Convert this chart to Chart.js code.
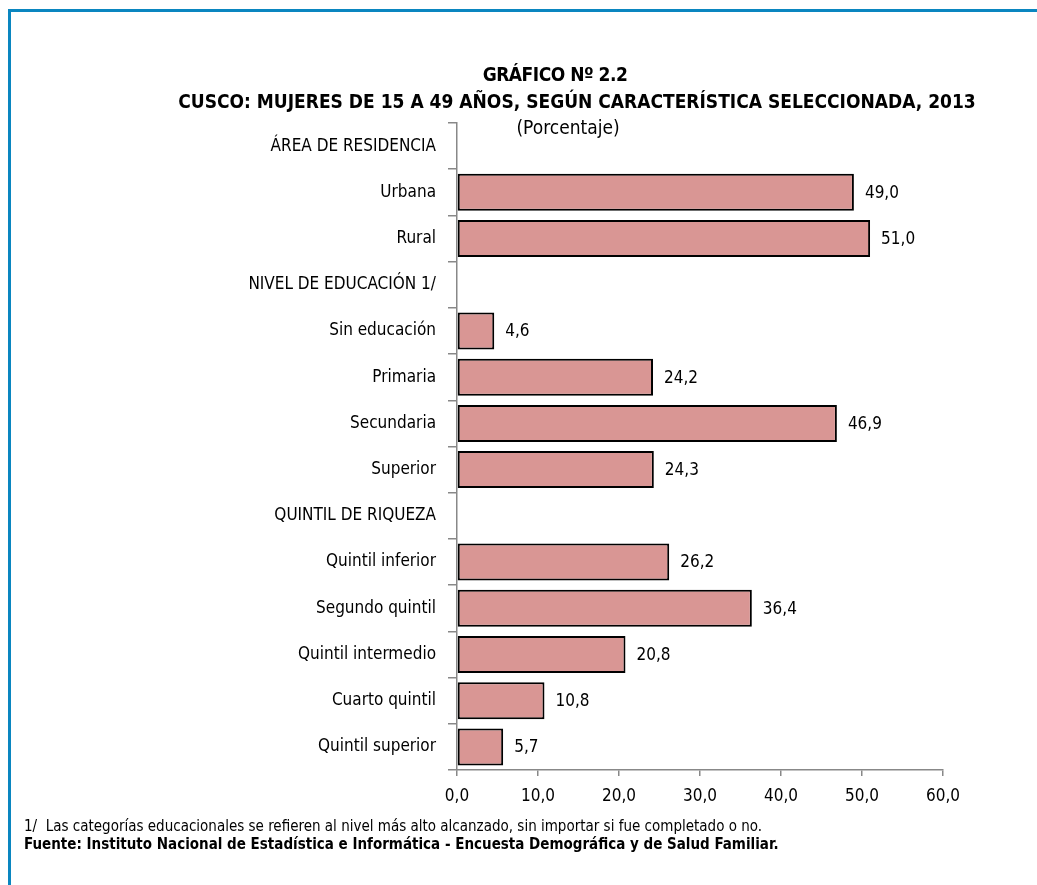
<!DOCTYPE html>
<html>
<head>
<meta charset="utf-8">
<script src="https://cdn.jsdelivr.net/npm/chart.js@4/dist/chart.umd.min.js"></script>
<style>
  html, body { margin: 0; padding: 0; background: #fff; }
  #page { position: relative; width: 1037px; height: 885px; overflow: hidden;
          font-family: 'Liberation Sans Narrow', 'Arial Narrow', 'DejaVu Sans Condensed', sans-serif; color: #000; }
  #frame { position: absolute; left: 8px; top: 9px; width: 1100px; height: 1000px;
           border-left: 3px solid #0a86c0; border-top: 3px solid #0a86c0; }
  #chart { position: absolute; left: 0; top: 0; }
  .t { position: absolute; white-space: nowrap; }
  #t1 { left: 0; width: 1110px; text-align: center; top: 63px; font-weight: bold; font-size: 19px; letter-spacing: -0.5px; }
  #t2 { left: 0; width: 1154px; text-align: center; top: 90px; font-weight: bold; font-size: 19px; }
  #t3 { left: 0; width: 1136px; text-align: center; top: 116px; font-size: 19px; }
  #n1 { left: 24px; top: 817px; font-size: 15px; }
  #n2 { left: 24px; top: 835px; font-size: 15px; font-weight: bold; }
</style>
</head>
<body>
<div id="page">
  <div id="frame"></div>
  <canvas id="chart" width="1037" height="885"></canvas>
  <div class="t" id="t1">GRÁFICO Nº 2.2</div>
  <div class="t" id="t2">CUSCO: MUJERES DE 15 A 49 AÑOS, SEGÚN CARACTERÍSTICA SELECCIONADA, 2013</div>
  <div class="t" id="t3">(Porcentaje)</div>
  <div class="t" id="n1">1/&nbsp; Las categorías educacionales se refieren al nivel más alto alcanzado, sin importar si fue completado o no.</div>
  <div class="t" id="n2">Fuente: Instituto Nacional de Estadística e Informática - Encuesta Demográfica y de Salud Familiar.</div>
</div>
<script>
'use strict';

// ── Data ──────────────────────────────────────────────────────
const categories = [
  'ÁREA DE RESIDENCIA', 'Urbana', 'Rural',
  'NIVEL DE EDUCACIÓN 1/', 'Sin educación', 'Primaria', 'Secundaria', 'Superior',
  'QUINTIL DE RIQUEZA', 'Quintil inferior', 'Segundo quintil', 'Quintil intermedio',
  'Cuarto quintil', 'Quintil superior'
];
const values = [null, 49.0, 51.0, null, 4.6, 24.2, 46.9, 24.3, null, 26.2, 36.4, 20.8, 10.8, 5.7];
const xTicks = [0, 10, 20, 30, 40, 50, 60];

const FONT = "'Liberation Sans Narrow', 'Arial Narrow', 'DejaVu Sans Condensed', sans-serif";
const fmt = v => v.toFixed(1).replace('.', ',');

// ── Value labels ──────────────────────────────────────────────
const valueLabels = {
  id: 'valueLabels',
  afterDatasetsDraw(chart) {
    const ctx = chart.ctx;
    const meta = chart.getDatasetMeta(0);
    ctx.save();
    ctx.font = '17px ' + FONT;
    ctx.fillStyle = '#000';
    ctx.textAlign = 'left';
    ctx.textBaseline = 'middle';
    meta.data.forEach((bar, i) => {
      if (values[i] == null) return;
      ctx.fillText(fmt(values[i]), bar.x + 11, bar.y + 1);
    });
    ctx.restore();
  }
};

new Chart(document.getElementById('chart'), {
  type: 'bar',
  data: {
    labels: categories,
    datasets: [{
      data: values,
      backgroundColor: '#d99694',
      borderColor: '#000',
      borderWidth: 2,
      borderSkipped: false,
      categoryPercentage: 0.8,
      barPercentage: 1.0
    }]
  },
  plugins: [valueLabels],
  options: {
    indexAxis: 'y',
    responsive: false,
    animation: false,
    layout: { padding: { left: 0, right: 94, top: 123, bottom: 75 } },
    plugins: { legend: { display: false }, tooltip: { enabled: false }, title: { display: false } },
    scales: {
      y: {
        type: 'category',
        afterFit: s => { s.width = 457; },
        border: { color: '#888', width: 1.5 },
        grid: { offset: true, drawOnChartArea: false, color: '#888', lineWidth: 1.5, tickLength: 9 },
        ticks: { color: '#000', font: { family: FONT, size: 17 }, padding: 12, autoSkip: false }
      },
      x: {
        type: 'linear', min: 0, max: 60,
        afterFit: s => { s.height = 40; },
        afterBuildTicks: s => { s.ticks = xTicks.map(v => ({ value: v })); },
        border: { color: '#888', width: 1.5 },
        grid: { drawOnChartArea: false, color: '#888', lineWidth: 1.5, tickLength: 6 },
        ticks: { color: '#000', font: { family: FONT, size: 17 }, padding: 10, callback: v => fmt(v) }
      }
    }
  }
});
</script>
</body>
</html>
